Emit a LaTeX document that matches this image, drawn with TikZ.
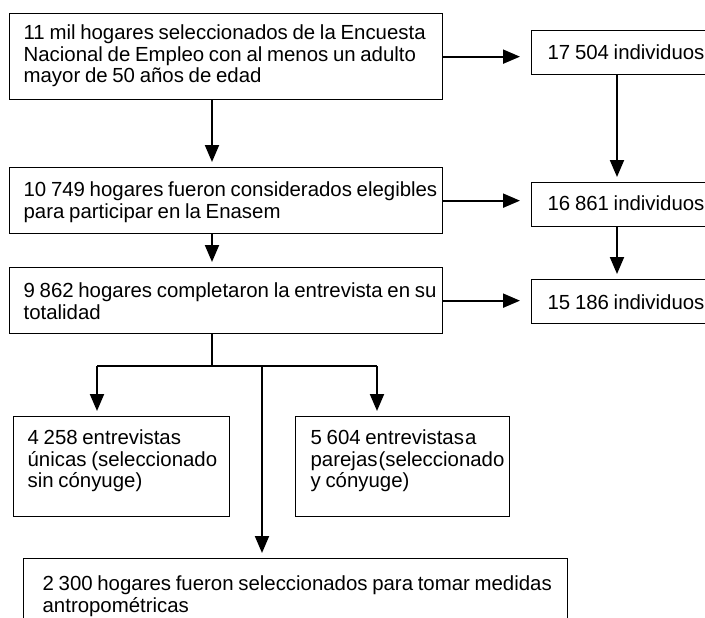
\documentclass[tikz,border=0pt]{standalone}
\usepackage{fontspec}
\setmainfont{Liberation Sans}
\usetikzlibrary{positioning, arrows.meta}

\begin{document}
\begin{tikzpicture}[
		x=1pt, y=-1pt,
		box/.style = {draw, line width=1.3pt, anchor=north west,
			align=left, inner sep=0pt,
			font=\fontsize{20.4}{21.5}\selectfont,
			execute at begin node={\spaceskip=4.7pt minus 1pt\relax}},
		lpad/.style = {execute at begin node={\leftskip=#1\relax}},
		arr/.style = {-{Triangle[length=17pt,width=14pt]},
			line width=2pt, shorten >=5pt},
		lnk/.style = {line width=1.5pt}
                    ]
		\useasboundingbox (0,0) rectangle (705,618);

		% left column
		\node(hog11) [box, lpad=14pt, text width=433pt, text height=26pt, text depth=60pt]
			at (9,13) {11 mil hogares seleccionados de la Encuesta\\
			Nacional de Empleo con al menos un adulto\\
			mayor de 50 años de edad};
		\node(hog10) [box, lpad=14pt, text width=433pt, text height=29pt, text depth=37pt]
			at (9,167) {10 749 hogares fueron considerados elegibles\\
			para participar en la Enasem};
		\node(hog9) [box, lpad=14pt, text width=433pt, text height=30pt, text depth=36pt]
			at (9,267) {9 862 hogares completaron la entrevista en su\\
			totalidad};

		% right column
		\node(ind17) [box, lpad=16pt, text width=190pt,
			text height=29pt, text depth=15pt] at (531,30) {17 504 individuos};
		\node(ind16) [box, lpad=16pt, text width=190pt,
			text height=28pt, text depth=16pt] at (531,182) {16 861 individuos};
		\node(ind15) [box, lpad=16pt, text width=190pt,
			text height=30pt, text depth=14pt] at (531,279) {15 186 individuos};

		% bottom
		\node(unicas) [box, lpad=14pt, text width=216pt,
			text height=28pt, text depth=72pt] at (13,416)
			{4 258 entrevistas\\ únicas (seleccionado\\ sin cónyuge)};
		\node(parejas) [box, lpad=15pt, text width=214pt,
			text height=28pt, text depth=72pt] at (295,416)
			{5 604 entrevistas\kern1pt a\\ parejas\kern1pt(seleccionado\\ y cónyuge)};
		\node(antrop) [box, lpad=19pt, text width=544pt,
			text height=32pt, text depth=80pt] at (23,558)
			{2 300 hogares fueron seleccionados para tomar medidas\\
			antropométricas};

		\coordinate (spine) at (212,0);
		\coordinate (rcol) at (617,0);
		\coordinate (fork) at (0,366);
		\coordinate (lcol) at (97,0);
		\coordinate (mcol) at (262,0);
		\coordinate (ccol) at (377,0);

		\draw[arr] (hog11.south -| spine) -- (hog10.north -| spine);
		\draw[arr] (hog10.south -| spine) -- (hog9.north -| spine);
		\draw[arr, shorten >=11pt] (hog11.east) -- (hog11.east -| ind17.west);
		\draw[arr, shorten >=11pt] (hog10.east) -- (hog10.east -| ind16.west);
		\draw[arr, shorten >=11pt] (hog9.east) -- (hog9.east -| ind15.west);
		\draw[arr] (ind17.south -| rcol) -- (ind16.north -| rcol);
		\draw[arr] (ind16.south -| rcol) -- (ind15.north -| rcol);

		\draw[lnk] (hog9.south -| spine) -- (spine |- fork);
		\draw[lnk] (lcol |- fork) -- (ccol |- fork);
		\draw[arr] (lcol |- fork) -- (unicas.north -| lcol);
		\draw[arr] (ccol |- fork) -- (parejas.north -| ccol);
		\draw[arr] (mcol |- fork) -- (antrop.north -| mcol);
	\end{tikzpicture}
\end{document}
